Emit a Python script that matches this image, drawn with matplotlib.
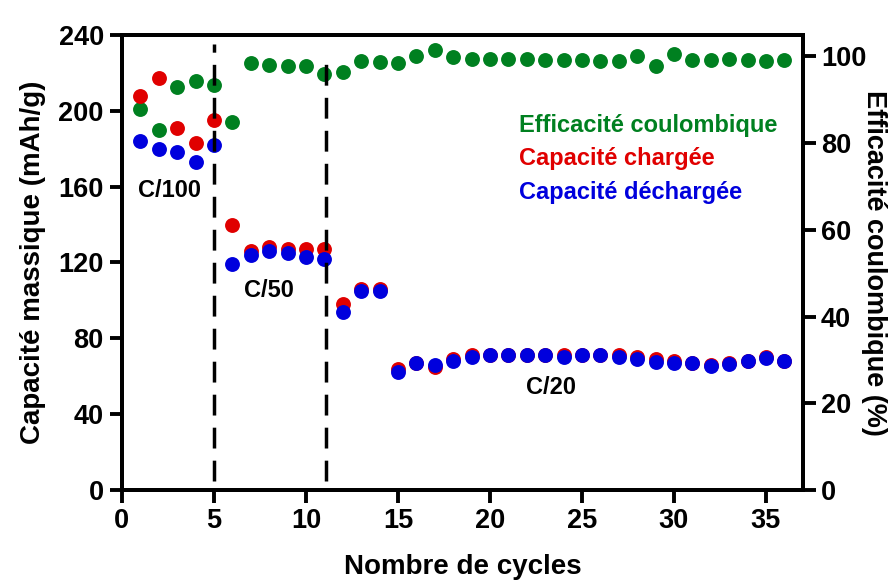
import matplotlib.pyplot as plt
import numpy as np

plt.rcParams['font.family'] = ['Liberation Sans', 'DejaVu Sans']
plt.rcParams['font.weight'] = 'bold'

cycles = np.arange(1, 37)

# capacite chargee (mAh/g)
charge = [208, 217, 191, 183, 195, 140, 126, 128, 127, 127, 127,
          98, 106, 106, 64, 67, 65, 69, 71, 71, 71, 71, 71, 71,
          71, 71, 71, 70, 69, 68, 67, 66, 67, 68, 70, 68]
# capacite dechargee (mAh/g)
decharge = [184, 180, 178, 173, 182, 119, 124, 126, 125, 123, 122,
            94, 105, 105, 62, 67, 66, 68, 70, 71, 71, 71, 71, 70,
            71, 71, 70, 69, 67.5, 67, 67, 65.5, 66.5, 68, 69.5, 68]
# efficacite coulombique (%)
efficacite = [88, 83, 93, 94.3, 93.5, 85, 98.5, 98, 97.8, 97.8, 96,
              96.5, 98.9, 98.7, 98.4, 100.2, 101.4, 99.9, 99.5, 99.5,
              99.4, 99.4, 99.3, 99.3, 99.3, 98.9, 99.0, 100.1, 97.8,
              100.5, 99.3, 99.3, 99.5, 99.2, 98.9, 99.2]

green = '#008020'
red = '#e00000'
blue = '#0000dd'

fig = plt.figure(figsize=(8.9, 5.8), dpi=100)
ax = fig.add_axes([0.137, 0.155, 0.765, 0.785])
ax2 = ax.twinx()

ax.scatter(cycles, charge, s=115, color=red, zorder=3, linewidths=0)
ax.scatter(cycles, decharge, s=115, color=blue, zorder=4, linewidths=0)
ax2.scatter(cycles, efficacite, s=115, color=green, zorder=3, linewidths=0)

ax.set_zorder(ax2.get_zorder() + 1)
ax.patch.set_visible(False)

# separations entre regimes
ax.plot([5, 5], [5, 235], color='black', lw=2.5, ls=(0, (6, 3.5)), zorder=5)
ax.plot([11.1, 11.1], [5, 230], color='black', lw=2.5, ls=(0, (6, 3.5)), zorder=5)

ax.set_xlim(0, 37)
ax.set_ylim(0, 240)
ax2.set_ylim(0, 105)
ax.set_xticks(np.arange(0, 36, 5))
ax.set_yticks(np.arange(0, 241, 40))
ax2.set_yticks(np.arange(0, 101, 20))

for a in (ax, ax2):
    for sp in a.spines.values():
        sp.set_linewidth(2.8)
    a.tick_params(width=2.8, length=9, labelsize=19.5, direction='out', pad=4)

ax.set_xlabel('Nombre de cycles', fontsize=20, fontweight='bold', labelpad=14)
ax.set_ylabel('Capacité massique (mAh/g)', fontsize=20, fontweight='bold', labelpad=9)
ax2.set_ylabel('Efficacité coulombique (%)', fontsize=19.5, fontweight='bold',
               rotation=270, labelpad=15)

ax.text(2.6, 158, 'C/100', fontsize=17, ha='center', va='center')
ax.text(8.0, 105, 'C/50', fontsize=17, ha='center', va='center')
ax.text(23.3, 54, 'C/20', fontsize=17, ha='center', va='center')

ax.text(21.6, 192, 'Efficacité coulombique', color=green, fontsize=17, va='center')
ax.text(21.6, 175, 'Capacité chargée', color=red, fontsize=17, va='center')
ax.text(21.6, 157, 'Capacité déchargée', color=blue, fontsize=17, va='center')

fig.savefig('out.png', dpi=100)
